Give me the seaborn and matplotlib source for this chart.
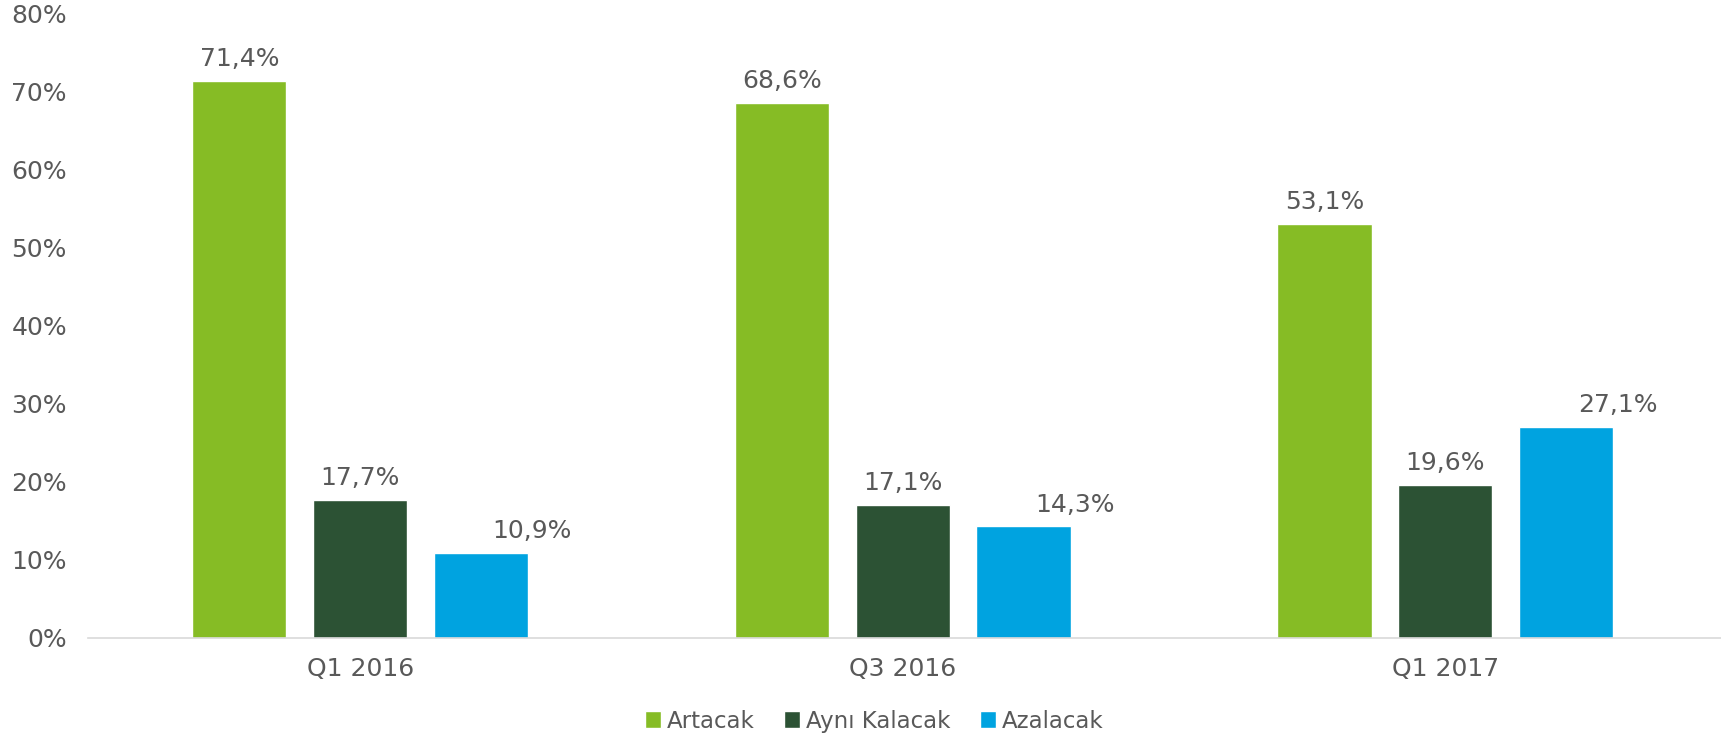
import pandas as pd
import seaborn as sns
import matplotlib.pyplot as plt
from matplotlib.ticker import FuncFormatter

# Data
periods = ['Q1 2016', 'Q3 2016', 'Q1 2017']
artacak = [71.4, 68.6, 53.1]
ayni_kalacak = [17.7, 17.1, 19.6]
azalacak = [10.9, 14.3, 27.1]
series_names = ['Artacak', 'Aynı Kalacak', 'Azalacak']
colors = ['#86BC25', '#2C5234', '#00A3E0']
text_gray = '#595959'

df = pd.DataFrame({
    'Dönem': periods * 3,
    'Seri': [s for s in series_names for _ in periods],
    'Oran': artacak + ayni_kalacak + azalacak,
})

sns.set_theme(style='white')
plt.rcParams['font.family'] = ['DejaVu Sans']

fig = plt.figure(figsize=(17.21, 7.35), dpi=100)
ax = fig.add_axes([0.051, 0.132, 0.949, 0.849])

sns.barplot(data=df, x='Dönem', y='Oran', hue='Seri', order=periods,
            hue_order=series_names, palette=colors, width=0.668, gap=0.22,
            saturation=1, ax=ax, legend=True)

# Value labels, comma as decimal separator; blue labels sit a bit to the right
for i, cont in enumerate(ax.containers):
    dx = 37 if i == 2 else 0
    for bar in cont:
        h = bar.get_height()
        ax.annotate(f'{h:.1f}%'.replace('.', ','),
                    (bar.get_x() + bar.get_width() / 2, h),
                    xytext=(dx, 7), textcoords='offset points',
                    ha='center', va='bottom', fontsize=18, color=text_gray)

ax.set_ylim(0, 80)
ax.set_xlim(-0.502, 2.508)
ax.set_yticks(range(0, 81, 10))
ax.yaxis.set_major_formatter(FuncFormatter(lambda v, p: f'{v:.0f}%'))
ax.tick_params(axis='both', labelsize=18, colors=text_gray, length=0)
ax.tick_params(axis='x', pad=14)
ax.tick_params(axis='y', pad=15)
ax.set_xlabel('')
ax.set_ylabel('')
ax.grid(False)

sns.despine(ax=ax, left=True, top=True, right=True)
ax.spines['bottom'].set_color('#D9D9D9')
ax.spines['bottom'].set_linewidth(1.2)

handles, labels = ax.get_legend_handles_labels()
ax.get_legend().remove()
fig.legend(handles, labels, loc='center', bbox_to_anchor=(0.508, 0.019),
           ncol=3, frameon=False, fontsize=16.5, labelcolor=text_gray,
           handlelength=0.7, handleheight=0.7, handletextpad=0.25,
           columnspacing=1.3)

plt.savefig('out.png', dpi=100)
